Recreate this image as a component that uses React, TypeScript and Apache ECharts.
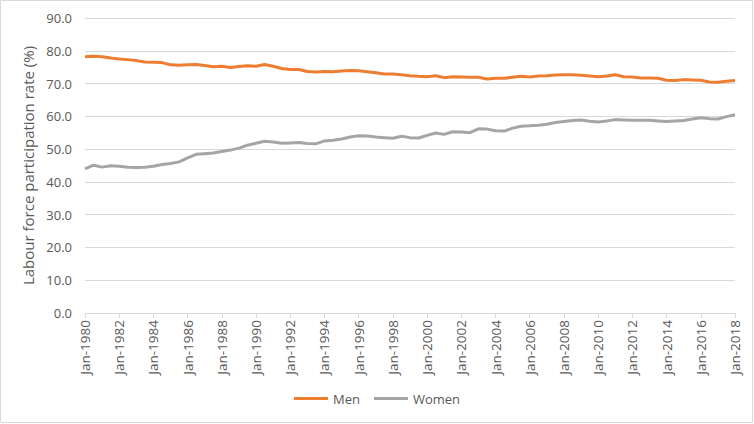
import React, { useEffect, useRef } from "react";
import * as echarts from "echarts";

// Semi-annual observations (Jan / Jul), Jan-1980 .. Jan-2018
const startYear = 1980;
const endYear = 2018;

const menValues = [
  78.2, 78.3, 78.2, 77.8, 77.5, 77.3, 77.0, 76.6, 76.5, 76.4,
  75.7, 75.6, 75.7, 75.8, 75.5, 75.1, 75.3, 74.9, 75.2, 75.4,
  75.3, 75.8, 75.3, 74.6, 74.3, 74.3, 73.7, 73.5, 73.7, 73.6,
  73.8, 74.0, 73.9, 73.6, 73.3, 72.9, 72.9, 72.7, 72.4, 72.2,
  72.1, 72.4, 71.8, 72.1, 72.0, 71.9, 71.9, 71.4, 71.6, 71.6,
  71.9, 72.2, 72.0, 72.3, 72.4, 72.6, 72.7, 72.7, 72.5, 72.3,
  72.1, 72.3, 72.7, 72.1, 72.0, 71.7, 71.7, 71.6, 71.0, 70.9,
  71.2, 71.1, 71.0, 70.5, 70.4, 70.7, 70.9,
];

const womenValues = [
  44.0, 45.1, 44.5, 44.9, 44.8, 44.5, 44.4, 44.5, 44.8, 45.3,
  45.6, 46.1, 47.3, 48.4, 48.6, 48.8, 49.3, 49.7, 50.3, 51.2,
  51.8, 52.4, 52.2, 51.8, 51.9, 52.0, 51.7, 51.6, 52.5, 52.7,
  53.1, 53.7, 54.1, 54.0, 53.7, 53.5, 53.3, 53.9, 53.5, 53.4,
  54.2, 54.9, 54.5, 55.3, 55.2, 55.0, 56.2, 56.1, 55.6, 55.5,
  56.4, 57.0, 57.1, 57.3, 57.6, 58.1, 58.4, 58.7, 58.9, 58.5,
  58.3, 58.6, 59.0, 58.9, 58.8, 58.8, 58.8, 58.6, 58.4, 58.6,
  58.7, 59.2, 59.6, 59.3, 59.2, 59.9, 60.5,
];

const categories: string[] = [];
for (let y = startYear; y <= endYear; y++) {
  categories.push(`Jan-${y}`);
  if (y < endYear) categories.push(`Jul-${y}`);
}

const seriesNames = ["Men", "Women"];
const seriesColors = ["#ED7D31", "#A5A5A5"];
const yAxisTitle = "Labour force participation rate (%)";

export default function App() {
  const ref = useRef<HTMLDivElement>(null);

  useEffect(() => {
    document.body.style.margin = "0";
    if (!ref.current) return;
    const chart = echarts.init(ref.current, null, { renderer: "svg" });
    const font = "Open Sans";
    chart.setOption({
      animation: false,
      backgroundColor: "#ffffff",
      textStyle: { fontFamily: font },
      graphic: [
        {
          type: "rect",
          shape: { x: 0.5, y: 0.5, width: 752, height: 422 },
          style: { fill: "none", stroke: "#d9d9d9", lineWidth: 1 },
          silent: true,
        },
      ],
      grid: { left: 85, right: 19, top: 18, bottom: 111, containLabel: false },
      legend: {
        bottom: 14,
        left: "center",
        itemWidth: 34,
        itemHeight: 3,
        itemGap: 14,
        icon: "rect",
        textStyle: { color: "#595959", fontSize: 13, fontFamily: font },
        data: seriesNames.map((n) => ({ name: n })),
      },
      xAxis: {
        type: "category",
        data: categories,
        boundaryGap: false,
        axisLine: { show: true, lineStyle: { color: "#d9d9d9", width: 1 } },
        axisTick: {
          show: true,
          interval: 3,
          length: 5,
          lineStyle: { color: "#d9d9d9" },
        },
        axisLabel: {
          interval: 3,
          rotate: 90,
          margin: 7,
          color: "#595959",
          fontSize: 13.5,
          fontFamily: font,
        },
        splitLine: { show: false },
      },
      yAxis: {
        type: "value",
        min: 0,
        max: 90,
        interval: 10,
        name: yAxisTitle,
        nameLocation: "middle",
        nameGap: 46,
        nameTextStyle: { color: "#595959", fontSize: 15, fontFamily: font },
        axisLine: { show: false },
        axisTick: { show: false },
        axisLabel: {
          color: "#595959",
          fontSize: 13,
          margin: 13,
          fontFamily: font,
          formatter: (v: number) => v.toFixed(1),
        },
        splitLine: { lineStyle: { color: "#d9d9d9", width: 1 } },
      },
      series: [
        {
          name: seriesNames[0],
          type: "line",
          data: menValues,
          symbol: "none",
          smooth: false,
          lineStyle: { color: seriesColors[0], width: 3 },
          itemStyle: { color: seriesColors[0] },
        },
        {
          name: seriesNames[1],
          type: "line",
          data: womenValues,
          symbol: "none",
          smooth: false,
          lineStyle: { color: seriesColors[1], width: 3 },
          itemStyle: { color: seriesColors[1] },
        },
      ],
    });
    return () => chart.dispose();
  }, []);

  return <div ref={ref} style={{ width: 754, height: 424 }} />;
}
